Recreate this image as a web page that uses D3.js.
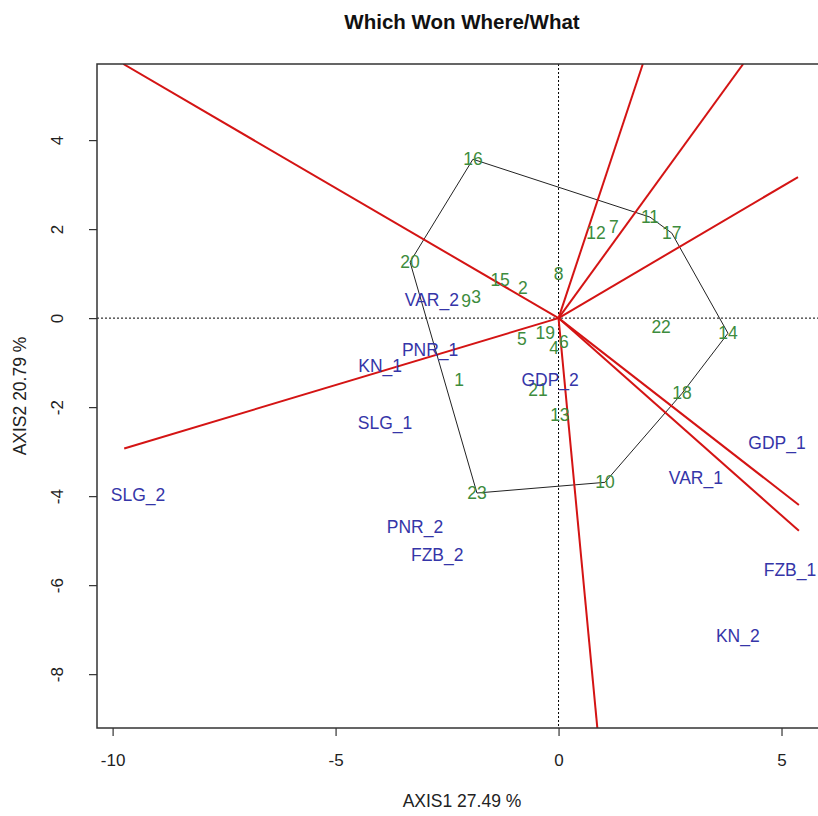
<!DOCTYPE html>
<html>
<head>
<meta charset="utf-8">
<script src="https://cdn.jsdelivr.net/npm/d3@7"></script>
<style>
  html, body { margin: 0; padding: 0; background: #fff; }
  svg { display: block; font-family: "Liberation Sans", Arial, sans-serif; }
</style>
</head>
<body>
<svg id="chart" width="818" height="816"></svg>
<script>
// GGE biplot: which won where/what
const genotypes = ["1","2","3","4","5","6","7","8","9","10","11","12","13","14","15","16","17","18","19","20","21","22","23"];
const genoX = [-2.23,-0.80,-1.85,-0.10,-0.82,0.12,1.24,0.00,-2.07,1.04,2.05,0.84,0.03,3.80,-1.31,-1.92,2.54,2.77,-0.30,-3.33,-0.46,2.30,-1.83];
const genoY = [-1.39,0.67,0.47,-0.67,-0.47,-0.54,2.04,0.99,0.38,-3.69,2.27,1.91,-2.18,-0.34,0.85,3.57,1.91,-1.69,-0.34,1.26,-1.62,-0.20,-3.93];

const environments = ["VAR_2","PNR_1","KN_1","GDP_2","SLG_1","SLG_2","GDP_1","VAR_1","PNR_2","FZB_2","FZB_1","KN_2"];
const envX = [-2.84,-2.88,-4.00,-0.19,-3.89,-9.43,4.90,3.08,-3.22,-2.72,5.19,4.02];
const envY = [0.40,-0.72,-1.08,-1.39,-2.36,-3.98,-2.81,-3.60,-4.70,-5.33,-5.66,-7.15];

// convex hull vertices (genotype labels, in drawing order)
const hullOrder = ["16","11","17","14","18","10","23","20"];

// sector rays from the origin, perpendicular to hull sides
const rayX = [-9.76, 1.89, 4.14, 5.37, -9.74, 5.39, 5.39, 0.87];
const rayY = [5.71, 5.71, 5.71, 3.17, -2.93, -4.20, -4.78, -9.21];

const xTicks = [-10,-5,0,5];
const yTicks = [-8,-6,-4,-2,0,2,4];

const title = "Which Won Where/What";
const xLabel = "AXIS1 27.49 %";
const yLabel = "AXIS2 20.79 %";

const svg = d3.select("#chart");
const plot = {left: 97, right: 827, top: 64, bottom: 728};

const x = d3.scaleLinear().domain([-10.35, 6.02]).range([plot.left, plot.right]);
const y = d3.scaleLinear().domain([-9.21, 5.71]).range([plot.bottom, plot.top]);

svg.append("defs").append("clipPath").attr("id","clip")
  .append("rect").attr("x", plot.left).attr("y", plot.top)
  .attr("width", plot.right - plot.left).attr("height", plot.bottom - plot.top);

const g = svg.append("g").attr("clip-path","url(#clip)");

// reference lines through the origin
g.append("line").attr("x1", plot.left).attr("x2", plot.right)
  .attr("y1", y(0)).attr("y2", y(0))
  .attr("stroke","#000").attr("stroke-width",1).attr("stroke-dasharray","2,2");
g.append("line").attr("x1", x(0)).attr("x2", x(0))
  .attr("y1", plot.top).attr("y2", plot.bottom)
  .attr("stroke","#000").attr("stroke-width",1).attr("stroke-dasharray","2,2");

// hull polygon
const idx = hullOrder.map(n => genotypes.indexOf(n));
g.append("path")
  .attr("d", d3.line()(idx.concat([idx[0]]).map(i => [x(genoX[i]), y(genoY[i])])))
  .attr("fill","none").attr("stroke","#222").attr("stroke-width",1);

// rays
rayX.forEach((rx, i) => {
  g.append("line")
    .attr("x1", x(0)).attr("y1", y(0))
    .attr("x2", x(rx)).attr("y2", y(rayY[i]))
    .attr("stroke","#d41414").attr("stroke-width",2);
});

// genotype labels
genotypes.forEach((name, i) => {
  g.append("text").attr("x", x(genoX[i])).attr("y", y(genoY[i]))
    .attr("text-anchor","middle").attr("dominant-baseline","central")
    .attr("font-size",17.5).attr("fill","#3d8c3d").text(name);
});

// environment labels
environments.forEach((name, i) => {
  g.append("text").attr("x", x(envX[i])).attr("y", y(envY[i]))
    .attr("text-anchor","middle").attr("dominant-baseline","central")
    .attr("font-size",17.5).attr("fill","#3535a8").text(name);
});

// frame
svg.append("rect").attr("x", plot.left).attr("y", plot.top)
  .attr("width", plot.right - plot.left).attr("height", plot.bottom - plot.top)
  .attr("fill","none").attr("stroke","#333").attr("stroke-width",1.5);

// axes (plain hyphen for negative tick labels)
const fmt = d => String(d);
const xAxis = svg.append("g").attr("transform", `translate(0,${plot.bottom})`)
  .call(d3.axisBottom(x).tickValues(xTicks).tickSize(8).tickPadding(18).tickFormat(fmt));
const yAxis = svg.append("g").attr("transform", `translate(${plot.left},0)`)
  .call(d3.axisLeft(y).tickValues(yTicks).tickSize(8).tickPadding(14).tickFormat(fmt));
[xAxis, yAxis].forEach(a => {
  a.select(".domain").remove();
  a.selectAll(".tick line").attr("stroke","#333").attr("stroke-width",1.2);
  a.selectAll(".tick text").attr("font-size",17).attr("fill","#222")
    .attr("font-family","Liberation Sans, Arial, sans-serif");
});
// y tick labels are drawn parallel to the axis
yAxis.selectAll(".tick text")
  .attr("text-anchor","middle").attr("dy", null).attr("x", null)
  .attr("transform", "translate(-40,0) rotate(-90)")
  .attr("dominant-baseline","central");

// titles
svg.append("text").attr("x", (plot.left + plot.right) / 2).attr("y", 29)
  .attr("text-anchor","middle").attr("font-size",20.5).attr("font-weight","bold")
  .attr("fill","#111").text(title);
svg.append("text").attr("x", (plot.left + plot.right) / 2).attr("y", 807)
  .attr("text-anchor","middle").attr("font-size",17.5).attr("fill","#222").text(xLabel);
svg.append("text").attr("transform", `translate(26,${(plot.top + plot.bottom) / 2}) rotate(-90)`)
  .attr("text-anchor","middle").attr("font-size",17.5).attr("fill","#222").text(yLabel);
</script>
</body>
</html>
